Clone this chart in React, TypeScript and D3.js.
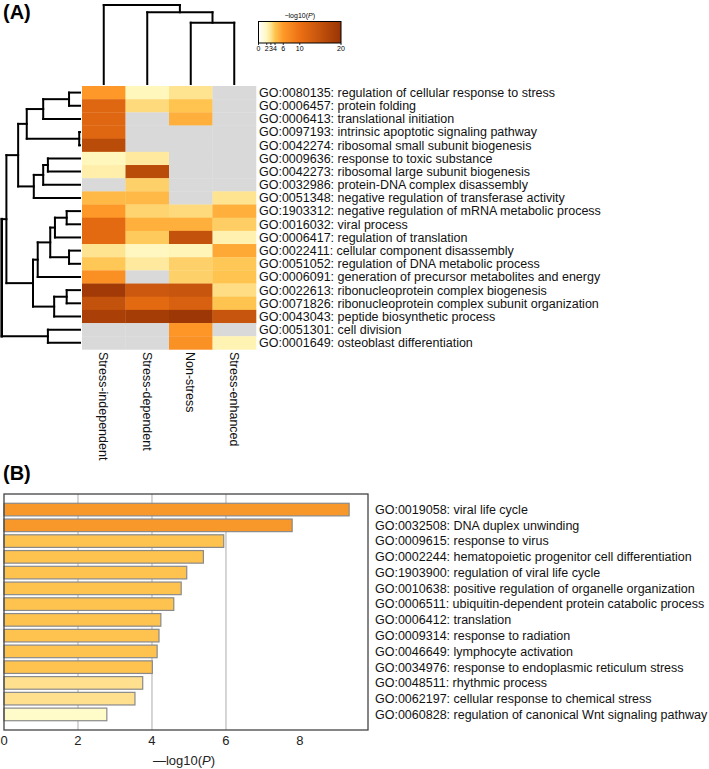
import React from "react";
import * as d3 from "d3";

// heatmap rows (GO terms) and columns (groups)
const goTerms = [
  "GO:0080135: regulation of cellular response to stress",
  "GO:0006457: protein folding",
  "GO:0006413: translational initiation",
  "GO:0097193: intrinsic apoptotic signaling pathway",
  "GO:0042274: ribosomal small subunit biogenesis",
  "GO:0009636: response to toxic substance",
  "GO:0042273: ribosomal large subunit biogenesis",
  "GO:0032986: protein-DNA complex disassembly",
  "GO:0051348: negative regulation of transferase activity",
  "GO:1903312: negative regulation of mRNA metabolic process",
  "GO:0016032: viral process",
  "GO:0006417: regulation of translation",
  "GO:0022411: cellular component disassembly",
  "GO:0051052: regulation of DNA metabolic process",
  "GO:0006091: generation of precursor metabolites and energy",
  "GO:0022613: ribonucleoprotein complex biogenesis",
  "GO:0071826: ribonucleoprotein complex subunit organization",
  "GO:0043043: peptide biosynthetic process",
  "GO:0051301: cell division",
  "GO:0001649: osteoblast differentiation",
];
const groups = ["Stress-independent", "Stress-dependent", "Non-stress", "Stress-enhanced"];

// -log10(P) per group, null = not enriched (grey)
const stressIndependent = [6, 11.5, 11.5, 11.5, 16, 2, 2.4, null, 4.5, 6, 11, 11, 3, 3.9, 7, 19, 15, 18, null, null];
const stressDependent = [2, 3.3, null, null, null, 2.7, 16, 3.6, 4.5, 3.5, 5, 3.8, 1.9, 2.7, null, 14, 11, 18.5, null, null];
const nonStress = [3, 4, 5, null, null, null, null, null, null, 3.3, 5, 15, 2.1, 3.6, 3.6, 14.5, 12.5, 19.5, 6.3, 6.8];
const stressEnhanced = [null, null, null, null, null, null, null, null, 3, 5, 3.7, 2.3, 5.3, 3.9, 4, 3.2, 4, 14.5, null, 2.2];

// dendrograms: [left child, right child, height]; ids past the leaves are merged clusters
const rowMerges = [
  [0, 1, 0.14], [20, 2, 0.47], [3, 4, 0.01], [21, 22, 0.68],
  [5, 6, 0.41], [24, 7, 0.47], [25, 8, 0.59], [23, 26, 0.79],
  [9, 10, 0.17], [28, 11, 0.32], [12, 13, 0.14], [29, 30, 0.38],
  [31, 14, 0.54], [15, 16, 0.17], [33, 17, 0.33], [32, 34, 0.6],
  [27, 35, 0.94], [18, 19, 0.41], [36, 37, 1.0],
];
const colMerges = [[2, 3, 0.776], [1, 4, 0.908], [0, 5, 1.0]];

const legendTicks = [0, 2, 3, 4, 6, 10, 20];

// bar chart
const barTerms = [
  "GO:0019058: viral life cycle",
  "GO:0032508: DNA duplex unwinding",
  "GO:0009615: response to virus",
  "GO:0002244: hematopoietic progenitor cell differentiation",
  "GO:1903900: regulation of viral life cycle",
  "GO:0010638: positive regulation of organelle organization",
  "GO:0006511: ubiquitin-dependent protein catabolic process",
  "GO:0006412: translation",
  "GO:0009314: response to radiation",
  "GO:0046649: lymphocyte activation",
  "GO:0034976: response to endoplasmic reticulum stress",
  "GO:0048511: rhythmic process",
  "GO:0062197: cellular response to chemical stress",
  "GO:0060828: regulation of canonical Wnt signaling pathway",
];
const barValues = [9.33, 7.79, 5.94, 5.39, 4.94, 4.79, 4.59, 4.24, 4.19, 4.14, 4.01, 3.75, 3.54, 2.78];
const barTicks = [0, 2, 4, 6, 8];
const gridTicks = [2, 4, 6];

const FONT = "'Liberation Sans', Arial, sans-serif";

function dendroLines(merges, nLeaves, leafPos, hScale, horizontal) {
  const pos = leafPos.slice();
  const hs = new Array(nLeaves).fill(0);
  const segs = [];
  merges.forEach(([a, b, h]) => {
    const p = (pos[a] + pos[b]) / 2;
    [a, b].forEach((c) => segs.push([hs[c], pos[c], h, pos[c]]));
    segs.push([h, pos[a], h, pos[b]]);
    pos.push(p);
    hs.push(h);
  });
  return segs.map(([h1, p1, h2, p2]) =>
    horizontal
      ? { x1: hScale(h1), y1: p1, x2: hScale(h2), y2: p2 }
      : { x1: p1, y1: hScale(h1), x2: p2, y2: hScale(h2) }
  );
}

export default function App() {
  const cols = [stressIndependent, stressDependent, nonStress, stressEnhanced];

  const x = d3.scaleBand().domain(groups).range([82, 256]);
  const y = d3.scaleBand().domain(goTerms).range([86, 349.4]);
  const color = d3
    .scaleLinear<string>()
    .domain([0, 2, 3, 4, 6, 10, 20])
    .range(["#ffffff", "#fff7bc", "#fee391", "#fec44f", "#fe9929", "#ec7014", "#993404"])
    .clamp(true);

  const rowLines = dendroLines(
    rowMerges,
    goTerms.length,
    goTerms.map((t) => y(t)! + y.bandwidth() / 2),
    d3.scaleLinear().domain([0, 1]).range([80, 1.7]),
    true
  );
  const colLines = dendroLines(
    colMerges,
    groups.length,
    groups.map((g) => x(g)! + x.bandwidth() / 2),
    d3.scaleLinear().domain([0, 1]).range([84, 5]),
    false
  );

  const lx = d3.scaleLinear().domain([0, 20]).range([258.5, 341]);
  const gradStops = d3.range(0, 20.01, 0.5);

  // panel B
  const bx = d3.scaleLinear().domain([0, 9.84]).range([4, 368]);
  const by = d3.scaleBand().domain(barTerms).range([501.7, 722.3]).paddingInner(0.2).paddingOuter(0.1);
  const barColor = d3.scaleThreshold<number, string>().domain([3, 4, 7]).range(["#fffcca", "#fee08e", "#fec24f", "#f8982a"]);

  return (
    <svg width={709} height={769} style={{ position: "absolute", left: 0, top: 0 }} fontFamily={FONT}>
      <rect width={709} height={769} fill="#fff" />
      <text x={3} y={18.5} fontSize={20} fontWeight="bold">(A)</text>

      {/* heatmap cells */}
      {cols.map((vals, ci) =>
        goTerms.map((t, ri) => (
          <rect
            key={`${ci}-${ri}`}
            x={x(groups[ci])}
            y={y(t)}
            width={x.bandwidth() + 0.3}
            height={y.bandwidth() + 0.3}
            fill={vals[ri] == null ? "#d9d9d9" : color(vals[ri])}
          />
        ))
      )}
      {goTerms.map((t) => (
        <text key={t} x={259} y={y(t)! + y.bandwidth() / 2} dy="0.35em" fontSize={12.5} fill="#111">
          {t}
        </text>
      ))}
      {groups.map((g) => (
        <text
          key={g}
          transform={`translate(${x(g)! + x.bandwidth() / 2},352) rotate(90)`}
          dy="0.35em"
          fontSize={12.5}
          fill="#111"
        >
          {g}
        </text>
      ))}

      {/* dendrograms */}
      <g stroke="#000" strokeWidth={2} strokeLinecap="square">
        {rowLines.map((l, i) => (
          <line key={i} {...l} strokeWidth={l.x1 < 4 && l.x2 < 4 ? 2.6 : 2} />
        ))}
        {colLines.map((l, i) => (
          <line key={"c" + i} {...l} />
        ))}
      </g>

      {/* color legend */}
      <defs>
        <linearGradient id="lg" x1="0" x2="1" y1="0" y2="0">
          {gradStops.map((v) => (
            <stop key={v} offset={v / 20} stopColor={color(v)} />
          ))}
        </linearGradient>
      </defs>
      <text x={(lx(0) + lx(20)) / 2} y={17.5} fontSize={7} textAnchor="middle">
        −log10(<tspan fontStyle="italic">P</tspan>)
      </text>
      <rect x={lx(0)} y={21.5} width={lx(20) - lx(0)} height={21.5} fill="url(#lg)" stroke="#000" strokeWidth={1} />
      {legendTicks.map((t) => (
        <g key={t}>
          <line x1={lx(t)} x2={lx(t)} y1={43} y2={45} stroke="#000" strokeWidth={0.8} />
          <text x={lx(t)} y={51} fontSize={7} textAnchor="middle">{t}</text>
        </g>
      ))}

      {/* panel B */}
      <text x={3} y={480} fontSize={20} fontWeight="bold">(B)</text>
      {gridTicks.map((t) => (
        <line key={t} x1={bx(t)} x2={bx(t)} y1={494} y2={730} stroke="#c8c8c8" strokeWidth={1.5} />
      ))}
      {barTerms.map((t, i) => (
        <rect
          key={t}
          x={bx(0)}
          y={by(t)}
          width={bx(barValues[i]) - bx(0)}
          height={by.bandwidth()}
          fill={barColor(barValues[i])}
          stroke="#8a8a8a"
          strokeWidth={1.2}
        />
      ))}
      <rect x={4} y={494} width={364} height={236} fill="none" stroke="#444" strokeWidth={1.3} />
      {barTicks.map((t) => (
        <text key={t} x={bx(t)} y={745} fontSize={13} textAnchor="middle" fill="#222">
          {t}
        </text>
      ))}
      <text x={184} y={765} fontSize={13} textAnchor="middle" fill="#222">
        —log10(<tspan fontStyle="italic">P</tspan>)
      </text>
      {barTerms.map((t) => (
        <text key={t} x={375} y={by(t)! + by.bandwidth() / 2} dy="0.35em" fontSize={12.5} fill="#111">
          {t}
        </text>
      ))}
    </svg>
  );
}
